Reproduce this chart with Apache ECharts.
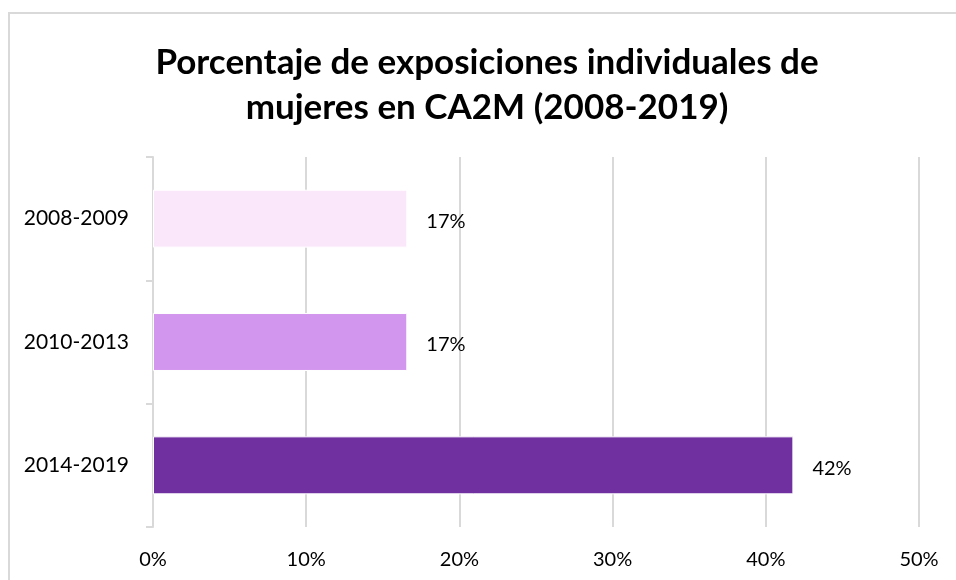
<!DOCTYPE html>
<html>
<head>
<meta charset="utf-8">
<script src="https://cdn.jsdelivr.net/npm/echarts@6/dist/echarts.min.js"></script>
<style>
  html, body { margin: 0; padding: 0; background: #fff; }
  #chart { width: 956px; height: 580px; }
</style>
</head>
<body>
<div id="chart"></div>
<script>
// data
var periods = ['2008-2009', '2010-2013', '2014-2019'];
var shares = [16.6, 16.6, 41.8];
var barColors = ['#FAE8FA', '#D396EE', '#7030A0'];
var xTicks = [0, 10, 20, 30, 40, 50];

var myChart = echarts.init(document.getElementById('chart'));

myChart.setOption({
    backgroundColor: '#fff',
    textStyle: { fontFamily: 'Lato' },
    graphic: [
        {
            // chart area frame
            type: 'rect',
            shape: { x: 9, y: 13, width: 1000, height: 600 },
            style: { fill: 'none', stroke: '#d9d9d9', lineWidth: 2 }
        }
    ],
    title: {
        text: 'Porcentaje de exposiciones individuales de\nmujeres en CA2M (2008-2019)',
        left: 482,
        top: 35,
        textAlign: 'center',
        textStyle: {
            fontFamily: 'Lato',
            fontWeight: 'bold',
            fontSize: 35,
            lineHeight: 45,
            color: '#000'
        }
    },
    grid: {
        left: 153,
        right: 37,
        top: 157,
        bottom: 53
    },
    xAxis: {
        type: 'value',
        min: 0,
        max: 50,
        interval: 10,
        axisLine: { show: false },
        axisTick: { show: false },
        axisLabel: {
            formatter: function (v) { return xTicks.indexOf(v) >= 0 ? v + '%' : ''; },
            fontSize: 20,
            color: '#000',
            margin: 23
        },
        splitLine: { lineStyle: { color: '#d9d9d9', width: 2 } }
    },
    yAxis: {
        type: 'category',
        data: periods,
        inverse: true,
        axisLine: { show: true, lineStyle: { color: '#d9d9d9', width: 2 } },
        axisTick: { show: true, length: 7, lineStyle: { color: '#d9d9d9', width: 2 } },
        axisLabel: { fontSize: 21, color: '#000', margin: 24 }
    },
    series: [
        {
            type: 'bar',
            barWidth: '47%',
            data: shares.map(function (v, i) {
                return {
                    value: v,
                    itemStyle: { color: barColors[i], borderColor: '#fff', borderWidth: 1 }
                };
            }),
            label: {
                show: true,
                position: 'right',
                distance: 19,
                offset: [0, 3],
                fontSize: 20,
                color: '#000',
                formatter: function (p) { return Math.round(p.value) + '%'; }
            }
        }
    ]
});
</script>
</body>
</html>
